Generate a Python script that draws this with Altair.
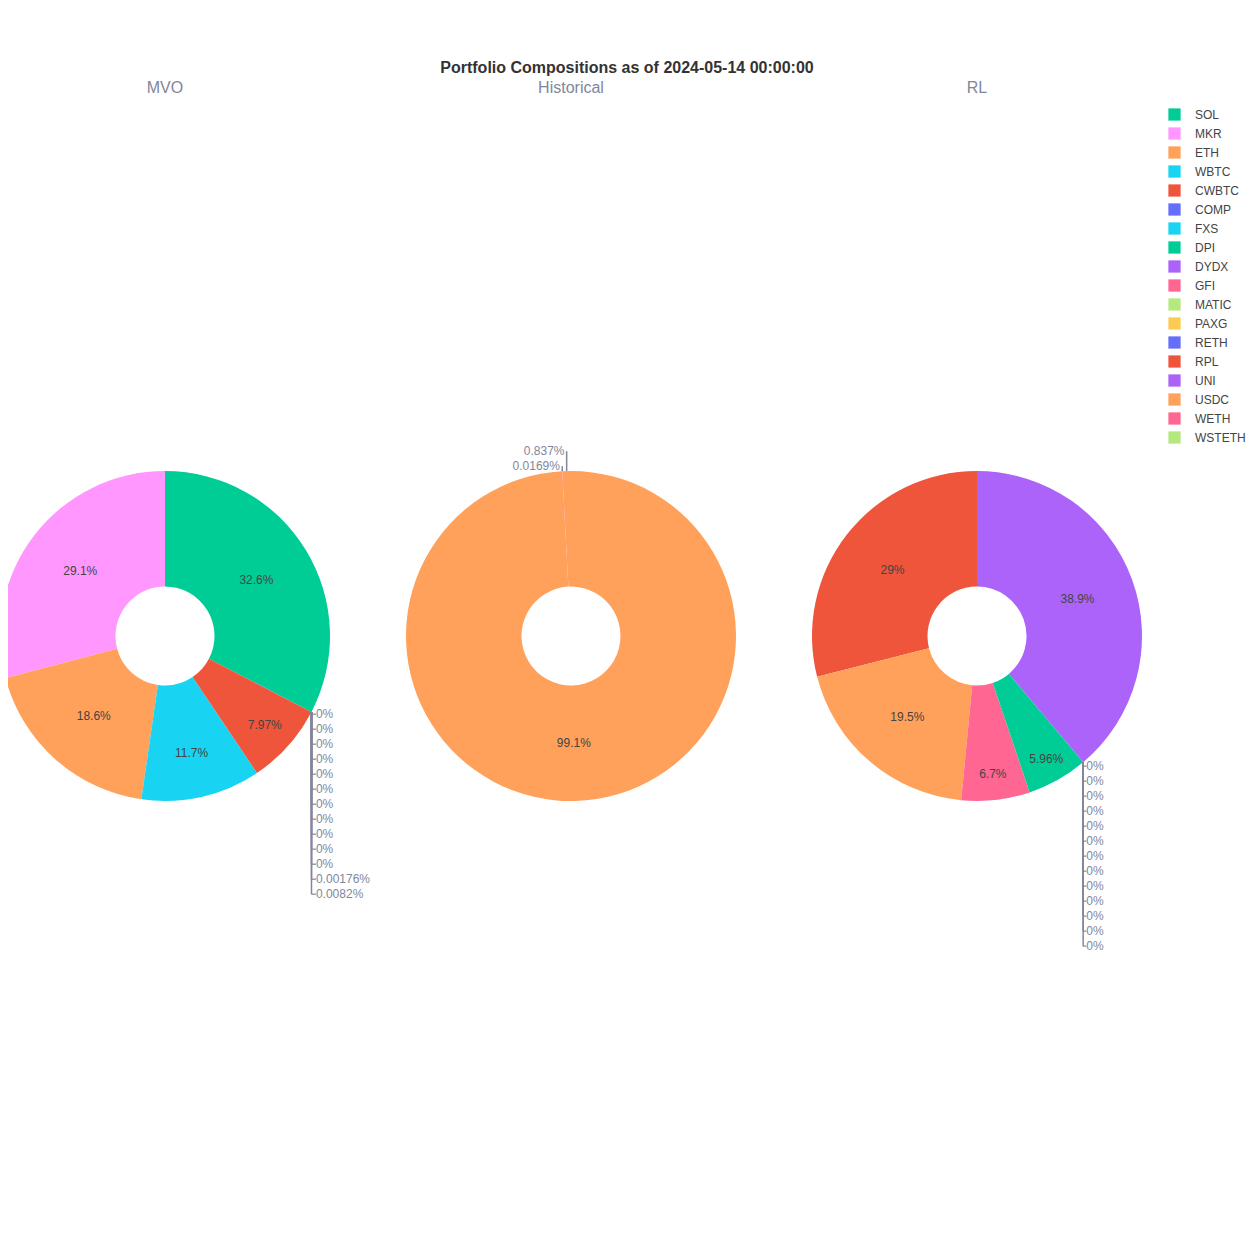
import altair as alt
import pandas as pd

FONT = "Liberation Sans"

# ---- data (weights in percent, as shown in the figure) ----
ASSETS = ["COMP", "CWBTC", "DPI", "DYDX", "ETH", "FXS", "GFI", "MATIC", "MKR",
          "PAXG", "RETH", "RPL", "SOL", "UNI", "USDC", "WBTC", "WETH", "WSTETH"]
PALETTE = ["#636efa", "#EF553B", "#00cc96", "#ab63fa", "#FFA15A",
           "#19d3f3", "#FF6692", "#B6E880", "#FF97FF", "#FECB52"]
LEGEND_ORDER = ["SOL", "MKR", "ETH", "WBTC", "CWBTC", "COMP", "FXS", "DPI", "DYDX",
                "GFI", "MATIC", "PAXG", "RETH", "RPL", "UNI", "USDC", "WETH", "WSTETH"]

MVO_ASSETS = ASSETS
MVO_WEIGHTS = [0.0082, 7.97, 0, 0, 18.6, 0.00176, 0, 0, 29.1,
               0, 0, 0, 32.6, 0, 0, 11.7, 0, 0]

HIST_ASSETS = ["ETH", "USDC", "WETH"]
HIST_WEIGHTS = [0.837, 99.1, 0.0169]

RL_ASSETS = ASSETS
RL_WEIGHTS = [0, 0, 5.96, 0, 0, 0, 6.7, 0, 0,
              0, 0, 29, 0, 38.9, 19.5, 0, 0, 0]

PANEL_TITLES = ["MVO", "Historical", "RL"]
MAIN_TITLE = "Portfolio Compositions as of 2024-05-14 00:00:00"

# ---- layout ----
W = 1238
H = 1225
PIE_X = [157, 563, 969]
PIE_Y = 628
R_OUT = 165
R_IN = 49.5
R_LAB = 170
GREY = "#82869c"
DARK = "#444444"

color_scale = alt.Scale(
    domain=LEGEND_ORDER,
    range=[PALETTE[ASSETS.index(a) % len(PALETTE)] for a in LEGEND_ORDER],
)
legend = alt.Legend(
    title=None, orient="none", legendX=1160, legendY=100, symbolType="square",
    symbolSize=150, symbolStrokeWidth=0, labelFontSize=12, labelColor=DARK,
    labelFont=FONT, rowPadding=6, labelOffset=14, padding=0, labelLimit=200,
)


def pie_frame(assets, weights):
    df = pd.DataFrame({"asset": assets, "value": weights})
    df = df.sort_values("value", ascending=False, kind="stable").reset_index(drop=True)
    n = len(df)
    df["ord"] = [0 if r == 0 else n - r for r in range(n)]
    return df


def pie_layers(df, cx, cy, out_align):
    arcs = alt.Chart(df).mark_arc(outerRadius=R_OUT, innerRadius=R_IN).encode(
        theta=alt.Theta("value:Q", stack=True),
        color=alt.Color("asset:N", scale=color_scale, legend=legend),
        order=alt.Order("ord:Q"),
        x=alt.value(cx),
        y=alt.value(cy),
    )
    base = (
        alt.Chart(df)
        .transform_joinaggregate(total="sum(value)")
        .transform_window(cum="sum(value)", sort=[alt.SortField("ord")], frame=[None, 0])
        .transform_calculate(
            share="datum.value / datum.total",
            am="2 * PI * (datum.cum - datum.value / 2) / datum.total",
            label="format(datum.value, '.3~r') + '%'",
        )
    )
    inside = (
        base.transform_filter("datum.share >= 0.02")
        .transform_calculate(
            lr="datum.share >= 0.15 ? 107 : 107 + (0.15 - datum.share) * 380",
        )
        .transform_calculate(
            lx=f"{cx} + datum.lr * sin(datum.am)",
            ly=f"{cy} - datum.lr * cos(datum.am)",
        )
        .mark_text(fontSize=12, color=DARK, font=FONT, baseline="middle", align="center")
        .encode(x=alt.X("lx:Q", scale=None), y=alt.Y("ly:Q", scale=None), text="label:N")
    )
    small = (
        base.transform_filter("datum.share < 0.02")
        .transform_window(k="row_number()", sort=[alt.SortField("ord")])
        .transform_joinaggregate(a_first="min(am)")
        .transform_calculate(
            down="cos(datum.a_first) < 0 ? 1 : -1",
            ex=f"{cx} + {R_OUT} * sin(datum.am)",
            ey=f"{cy} - {R_OUT} * cos(datum.am)",
            tx=f"{cx} + {R_LAB} * sin(datum.am)",
        )
        .transform_calculate(
            ty=f"{cy} - {R_LAB} * cos(datum.a_first) + datum.down * 15 * (datum.k - 1)",
        )
    )
    vlines = small.mark_rule(color=GREY, strokeWidth=1.5).encode(
        x=alt.X("ex:Q", scale=None), y=alt.Y("ey:Q", scale=None), y2="ty:Q"
    )
    hlines = small.mark_rule(color=GREY, strokeWidth=1.2).encode(
        x=alt.X("ex:Q", scale=None), x2="tx:Q", y=alt.Y("ty:Q", scale=None)
    )
    out_text = small.mark_text(
        fontSize=12, color=GREY, font=FONT, baseline="middle", align=out_align,
        dx=(-2 if out_align == "right" else 0),
    ).encode(x=alt.X("tx:Q", scale=None), y=alt.Y("ty:Q", scale=None), text="label:N")
    return [arcs, inside, vlines, hlines, out_text]


layers = []
layers += pie_layers(pie_frame(MVO_ASSETS, MVO_WEIGHTS), PIE_X[0], PIE_Y, "left")
layers += pie_layers(pie_frame(HIST_ASSETS, HIST_WEIGHTS), PIE_X[1], PIE_Y, "right")
layers += pie_layers(pie_frame(RL_ASSETS, RL_WEIGHTS), PIE_X[2], PIE_Y, "left")

panel_titles = alt.Chart(pd.DataFrame({"t": PANEL_TITLES, "cx": PIE_X})).mark_text(
    fontSize=16, color=GREY, font=FONT, baseline="middle", align="center"
).encode(x=alt.X("cx:Q", scale=None), y=alt.value(80), text="t:N")

main_title = alt.Chart(pd.DataFrame({"t": [MAIN_TITLE]})).mark_text(
    fontSize=16, color="#333333", font=FONT, fontWeight="bold", baseline="middle", align="center"
).encode(x=alt.value(619), y=alt.value(60), text="t:N")

chart = (
    alt.layer(*layers, panel_titles, main_title)
    .resolve_scale(theta="independent")
    .properties(width=W, height=H, autosize=alt.AutoSizeParams(type="none"), padding=0)
    .configure(background="white")
    .configure_view(strokeWidth=0, stroke="transparent")
)

chart.save("out.html", embed_options={"renderer": "svg", "actions": False})
